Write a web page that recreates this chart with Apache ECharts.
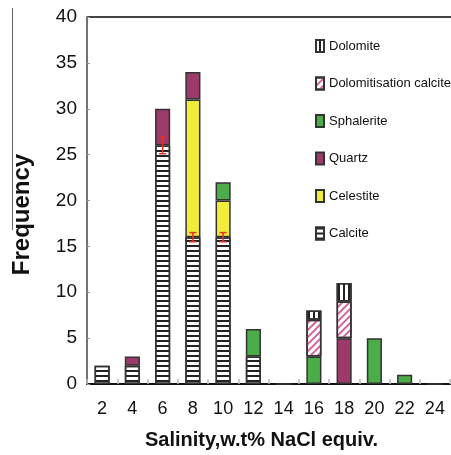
<!DOCTYPE html>
<html>
<head>
<meta charset="utf-8">
<script src="https://cdn.jsdelivr.net/npm/echarts@6/dist/echarts.min.js"></script>
<style>html,body{margin:0;padding:0;background:#fff}#c{width:451px;height:455px}</style>
</head>
<body>
<div id="c"></div>
<script>
var categories = ['2','4','6','8','10','12','14','16','18','20','22','24'];
var calcite    = [2, 2, 26, 16, 16, 3, 0, null, null, null, null, 0];
var celestite  = [null, null, null, 15, 4, null, null, null, null, null, null, null];
var quartz     = [null, 1, 4, 3, null, null, null, null, 5, null, null, null];
var sphalerite = [null, null, null, null, 2, 3, null, 3, null, 5, 1, null];
var dolCalcite = [null, null, null, null, null, null, null, 4, 4, null, null, null];
var dolomite   = [null, null, null, null, null, null, null, 1, 2, null, null, null];
var errCats = ['6', '8', '10'];
var errLow  = [25.1, 15.5, 15.5];
var errHigh = [26.9, 16.5, 16.5];
var yTicks = [0, 5, 10, 15, 20, 25, 30, 35, 40];

var chart = echarts.init(document.getElementById('c'), null, {renderer: 'canvas'});
var border = {borderColor: '#333', borderWidth: 1.5};
function bar(name, data, style) {
  return {
    name: name, type: 'bar', stack: 'all', data: data, barWidth: '50%',
    itemStyle: Object.assign({}, border, style),
    emphasis: {disabled: true}, animation: false
  };
}
var errData = errCats.map(function (c, i) { return [categories.indexOf(c), errLow[i], errHigh[i]]; });

var option = {
  animation: false,
  grid: {left: 87, right: 1, top: 17, bottom: 64, containLabel: false},
  legend: {
    orient: 'vertical', left: 315, top: 39, padding: 0,
    itemWidth: 8, itemHeight: 12, itemGap: 23.5,
    icon: 'rect',
    textStyle: {fontFamily: "'Liberation Sans', Arial, sans-serif", fontSize: 13, color: '#111'},
    data: ['Dolomite', 'Dolomitisation calcite', 'Sphalerite', 'Quartz', 'Celestite', 'Calcite'],
    selectedMode: false
  },
  xAxis: {
    type: 'category', data: categories,
    name: 'Salinity,w.t% NaCl equiv.', nameLocation: 'middle', nameGap: 46,
    nameTextStyle: {fontFamily: "'Liberation Sans', Arial, sans-serif", fontWeight: 'bold', fontSize: 20, color: '#111', padding: [0, 14, 0, 0]},
    axisLine: {lineStyle: {color: '#111', width: 2}},
    axisTick: {show: true, inside: true, length: 5, interval: 0, lineStyle: {color: '#bbb', width: 1.5}},
    axisLabel: {interval: 0, margin: 16, fontFamily: "'Liberation Sans', Arial, sans-serif", fontSize: 18, color: '#111'}
  },
  yAxis: {
    type: 'value', min: yTicks[0], max: yTicks[yTicks.length - 1], interval: 5,
    name: 'Frequency', nameLocation: 'middle', nameGap: 53, nameRotate: 90,
    nameTextStyle: {fontFamily: "'Liberation Sans', Arial, sans-serif", fontWeight: 'bold', fontSize: 24, color: '#111', padding: [0, 28, 0, 0]},
    axisLine: {show: true, lineStyle: {color: '#444', width: 1.5}},
    axisTick: {show: true, inside: true, length: 3, lineStyle: {color: '#999'}},
    splitLine: {show: false},
    axisLabel: {margin: 10, fontFamily: "'Liberation Sans', Arial, sans-serif", fontSize: 19, color: '#111'}
  },
  graphic: [
    {type: 'line', shape: {x1: 87, y1: 17, x2: 451, y2: 17}, style: {stroke: '#444', lineWidth: 2}, silent: true},
    {type: 'line', shape: {x1: 12.5, y1: 8, x2: 12.5, y2: 230}, style: {stroke: '#666', lineWidth: 1}, silent: true}
  ],
  series: [
    bar('Calcite', calcite, {color: '#fff', decal: {symbol: 'rect', symbolSize: 1, dashArrayX: [1, 0], dashArrayY: [2, 3], rotation: 0, color: '#222'}}),
    bar('Celestite', celestite, {color: '#f2ec3a'}),
    bar('Quartz', quartz, {color: '#9c3a6c'}),
    bar('Sphalerite', sphalerite, {color: '#4bad48'}),
    bar('Dolomitisation calcite', dolCalcite, {color: '#fff', decal: {symbol: 'rect', symbolSize: 1, dashArrayX: [1, 0], dashArrayY: [1.3, 2.5], rotation: -Math.PI / 4, color: '#d4649a'}}),
    bar('Dolomite', dolomite, {color: '#fff', decal: {symbol: 'rect', symbolSize: 1, dashArrayX: [1, 0], dashArrayY: [1.2, 2.6], rotation: Math.PI / 2, color: '#222'}}),
    {
      type: 'custom', name: 'err', data: errData, z: 10, animation: false,
      renderItem: function (params, api) {
        var x = api.value(0);
        var lo = api.coord([x, api.value(1)]);
        var hi = api.coord([x, api.value(2)]);
        var w = 3.5;
        var st = {stroke: '#e8302a', lineWidth: 1.5};
        return {type: 'group', children: [
          {type: 'line', shape: {x1: lo[0], y1: lo[1], x2: hi[0], y2: hi[1]}, style: st},
          {type: 'line', shape: {x1: lo[0] - w, y1: lo[1], x2: lo[0] + w, y2: lo[1]}, style: st},
          {type: 'line', shape: {x1: hi[0] - w, y1: hi[1], x2: hi[0] + w, y2: hi[1]}, style: st}
        ]};
      }
    }
  ]
};
chart.setOption(option);
</script>
</body>
</html>
